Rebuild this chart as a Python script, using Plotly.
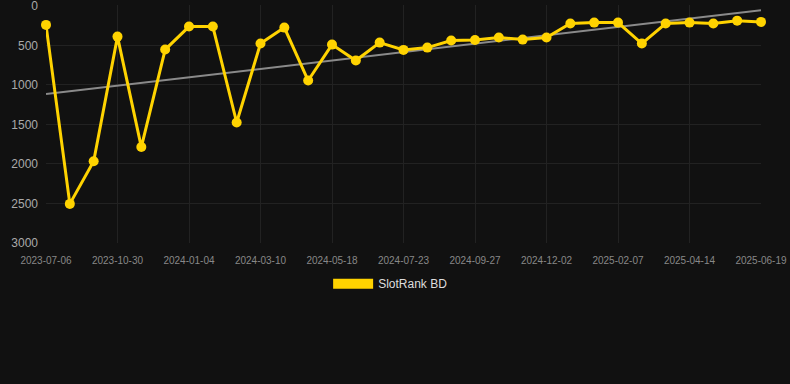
import numpy as np
import plotly.graph_objects as go

dates = ["2023-07-06", "2023-08-14", "2023-09-22", "2023-10-30", "2023-11-21", "2023-12-13",
         "2024-01-04", "2024-01-26", "2024-02-17", "2024-03-10", "2024-04-02", "2024-04-25",
         "2024-05-18", "2024-06-09", "2024-07-01", "2024-07-23", "2024-08-14", "2024-09-05",
         "2024-09-27", "2024-10-19", "2024-11-10", "2024-12-02", "2024-12-24", "2025-01-16",
         "2025-02-07", "2025-03-01", "2025-03-23", "2025-04-14", "2025-05-06", "2025-05-28",
         "2025-06-19"]
ranks = [240, 2505, 1965, 388, 1786, 552, 261, 261, 1475, 476, 274, 944, 489, 691, 464,
         556, 527, 438, 430, 400, 426, 400, 223, 211, 211, 476, 223, 211, 223, 186, 202]
tick_labels = dates[::3]
y_ticks = [0, 500, 1000, 1500, 2000, 2500, 3000]
series_name = "SlotRank BD"

gold = "#FFD300"
idx = np.arange(len(ranks))
slope, intercept = np.polyfit(idx, ranks, 1)
trend = slope * idx + intercept

fig = go.Figure()
fig.add_trace(go.Scatter(x=dates, y=trend, mode="lines", line=dict(color="#8a8a8a", width=2),
                         showlegend=False, hoverinfo="skip"))
fig.add_trace(go.Scatter(x=dates, y=ranks, mode="lines+markers", name=series_name,
                         line=dict(color=gold, width=3), marker=dict(color=gold, size=10),
                         cliponaxis=False, showlegend=False))
fig.add_trace(go.Scatter(x=[None], y=[None], mode="lines", name=series_name,
                         line=dict(color=gold, width=11), showlegend=True))

fig.update_layout(
    width=790, height=384,
    paper_bgcolor="#111111", plot_bgcolor="#111111",
    margin=dict(l=46, r=29, t=5, b=141),
    font=dict(family="Liberation Sans, Arial, sans-serif", color="#999999"),
    showlegend=True,
    legend=dict(orientation="h", x=0.482, xanchor="center", y=-0.11, yanchor="top",
                font=dict(size=12, color="#dddddd"), itemwidth=40),
    xaxis=dict(type="category", range=[0, len(dates) - 1], tickmode="array",
               tickvals=tick_labels, ticktext=tick_labels, tickfont=dict(size=10, color="#888888"),
               showgrid=True, gridcolor="#222222", zeroline=False, showline=False, ticks="",
               ticklabelstandoff=10, ticklabeloverflow="allow", automargin=False),
    yaxis=dict(range=[3000, -12], tickvals=y_ticks,
               tickfont=dict(size=12, color="#aaaaaa"), showgrid=True, gridcolor="#222222",
               zeroline=False, showline=False, ticks="", ticklabelstandoff=7,
               ticklabeloverflow="allow", automargin=False),
)

fig.write_html("out.html", config={"displayModeBar": False},
               post_script="document.body.style.margin='0';document.body.style.background='#111111';")
